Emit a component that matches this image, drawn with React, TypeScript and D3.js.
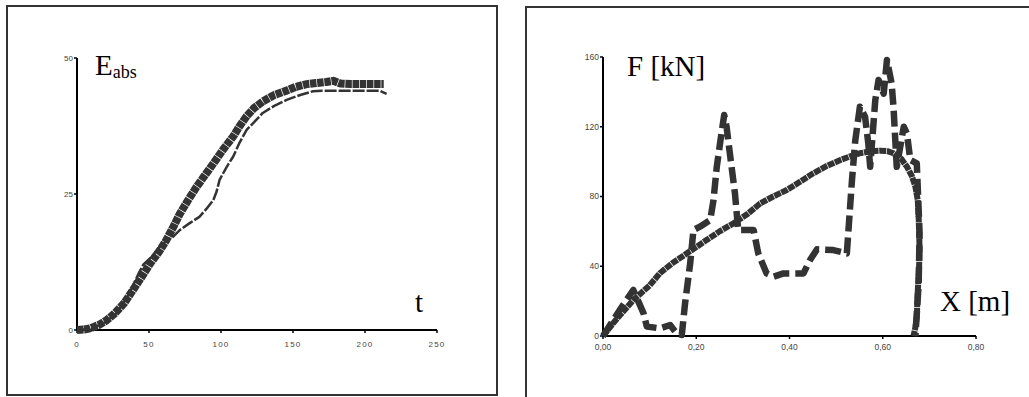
import { useRef, useEffect } from "react";
import * as d3 from "d3";

// Left panel: absorbed energy vs time
const thickT = [0, 5, 9, 15, 20.6, 26, 33, 39, 45, 51, 57, 62, 67, 71.5, 77, 83, 89, 94.7, 101, 108.5, 113, 117.8, 123, 129, 137, 145.6, 152, 159.5, 166, 173, 178, 183, 190, 200, 213];
const thickE = [0, 0.1, 0.3, 0.9, 1.8, 3, 5, 7.4, 9.8, 12.3, 14.4, 16.5, 19, 21.4, 23.8, 26.3, 28.5, 30.6, 33, 35.6, 37.5, 39.3, 40.8, 42, 43.2, 44, 44.7, 45.2, 45.4, 45.6, 45.8, 45.3, 45.2, 45.2, 45.2];
const thinT = [0, 10, 20, 27, 35, 40, 43, 46, 52, 58, 63, 67, 71.5, 78, 85, 90, 94.7, 97, 99, 104, 108.5, 113, 117.8, 123, 129, 137, 145.6, 155, 164, 170, 178, 195, 210, 215];
const thinE = [0, 0.2, 1.5, 3, 6, 8.8, 10.5, 12, 13.5, 15.5, 16.5, 17.2, 18.4, 19.6, 20.8, 22.3, 23.9, 25.5, 27.6, 30, 31.9, 34.5, 36.8, 38.2, 39.9, 41.2, 42.3, 43.2, 43.9, 44, 44, 44, 44, 43.4];
const leftXTicks = [0, 50, 100, 150, 200, 250];
const leftYTicks = [0, 25, 50];

// Right panel: force vs displacement
const solidX = [0, 0.03, 0.065, 0.1, 0.122, 0.15, 0.18, 0.2, 0.222, 0.25, 0.28, 0.31, 0.337, 0.365, 0.394, 0.42, 0.451, 0.48, 0.509, 0.53, 0.551, 0.575, 0.594, 0.61, 0.623, 0.64, 0.652, 0.662, 0.67, 0.675, 0.677, 0.679, 0.678, 0.675, 0.673, 0.67, 0.666];
const solidF = [0, 10, 20.6, 29, 36, 42, 47.4, 51, 55, 60, 64.6, 70, 76, 80, 83.7, 88, 93.3, 97.5, 100.9, 103, 104.8, 106, 106.3, 106, 104.8, 101.5, 97, 92, 85.6, 78, 68.4, 50, 39.7, 25, 11, 5, 0];
const dashX = [0, 0.036, 0.065, 0.087, 0.094, 0.122, 0.144, 0.158, 0.169, 0.176, 0.187, 0.194, 0.208, 0.23, 0.237, 0.244, 0.255, 0.26, 0.265, 0.273, 0.283, 0.29, 0.305, 0.323, 0.333, 0.351, 0.366, 0.387, 0.43, 0.444, 0.459, 0.494, 0.523, 0.526, 0.534, 0.541, 0.551, 0.562, 0.569, 0.573, 0.584, 0.591, 0.602, 0.609, 0.619, 0.623, 0.63, 0.645, 0.652, 0.659, 0.673, 0.679, 0.677, 0.67];
const dashF = [0, 14.9, 26.4, 13, 5.4, 4.4, 6.3, 1.5, 0.6, 18.7, 41.7, 60.8, 62.7, 66.5, 78, 97, 118, 126.7, 120, 102.8, 81.8, 60.8, 60.8, 60.8, 47.4, 35.9, 34, 35.9, 35.9, 43.6, 49.7, 49.3, 47.4, 58.9, 89.4, 112, 131.5, 125.8, 110.5, 97, 135.3, 146.8, 139, 158.3, 145, 131.5, 97, 120, 116, 101, 99, 58.9, 30, 0];
const rightXTicks = [0, 0.2, 0.4, 0.6, 0.8];
const rightYTicks = [0, 40, 80, 120, 160];

const INK = "#333";
const SERIF = "'Liberation Serif', 'Times New Roman', serif";
const SANS = "'Liberation Sans', Arial, sans-serif";

export default function App() {
  const svgRef = useRef<SVGSVGElement>(null);

  useEffect(() => {
    const svg = d3.select(svgRef.current);
    svg.selectAll("*").remove();

    // Panel frames
    svg.append("rect").attr("x", 7).attr("y", 6).attr("width", 490).attr("height", 389)
      .attr("fill", "none").attr("stroke", INK).attr("stroke-width", 2);
    svg.append("path").attr("d", "M526,397 V7 H1029")
      .attr("fill", "none").attr("stroke", INK).attr("stroke-width", 2);

    const drawAxes = (
      x: d3.ScaleLinear<number, number>,
      y: d3.ScaleLinear<number, number>,
      xTicks: number[],
      yTicks: number[],
      fmt: (d: number) => string,
      spacing: number,
      ly: number,
      fs: number,
    ) => {
      const g = svg.append("g");
      const [x0, x1] = x.range();
      const [y0, y1] = y.range();
      g.append("line").attr("x1", x0).attr("x2", x0).attr("y1", y0).attr("y2", y1).attr("stroke", "#000").attr("stroke-width", 2);
      g.append("line").attr("x1", x0).attr("x2", x1).attr("y1", y0).attr("y2", y0).attr("stroke", "#000").attr("stroke-width", 2);
      g.selectAll(".xt").data(xTicks).join("line")
        .attr("x1", (d) => x(d)).attr("x2", (d) => x(d)).attr("y1", y0).attr("y2", y0 + 3)
        .attr("stroke", "#000").attr("stroke-width", 1.5);
      g.selectAll(".yt").data(yTicks).join("line")
        .attr("x1", x0 - 3).attr("x2", x0).attr("y1", (d) => y(d)).attr("y2", (d) => y(d))
        .attr("stroke", "#000").attr("stroke-width", 1.5);
      g.selectAll(".xl").data(xTicks).join("text")
        .attr("x", (d) => x(d)).attr("y", y0 + ly).attr("text-anchor", "middle")
        .style("font-family", SANS).style("font-size", `${fs}px`)
        .style("letter-spacing", `${spacing}px`).style("fill", "#444").text(fmt);
      g.selectAll(".yl").data(yTicks).join("text")
        .attr("x", x0 - 4).attr("y", (d) => y(d)).attr("dy", "0.35em").attr("text-anchor", "end")
        .style("font-family", SANS).style("font-size", `${fs}px`)
        .style("fill", "#444").text((d) => String(d));
    };

    // Left chart
    const xL = d3.scaleLinear().domain([0, 250]).range([77, 437]);
    const yL = d3.scaleLinear().domain([0, 50]).range([330, 58]);
    drawAxes(xL, yL, leftXTicks, leftYTicks, (d) => String(d), 1.2, 17, 8);

    const lineL = d3.line<[number, number]>().x((d) => xL(d[0])).y((d) => yL(d[1])).curve(d3.curveLinear);
    svg.append("path").datum(d3.zip(thinT, thinE) as [number, number][])
      .attr("d", lineL).attr("fill", "none").attr("stroke", INK).attr("stroke-width", 2.5)
      .attr("stroke-dasharray", "12,2").attr("stroke-linejoin", "round");
    svg.append("path").datum(d3.zip(thickT, thickE) as [number, number][])
      .attr("d", lineL).attr("fill", "none").attr("stroke", INK).attr("stroke-width", 8)
      .attr("stroke-dasharray", "6.5,0.7").attr("stroke-linejoin", "round");

    const eLab = svg.append("text").attr("x", 95).attr("y", 75)
      .style("font-family", SERIF).style("fill", "#000");
    eLab.append("tspan").style("font-size", "29px").text("E");
    eLab.append("tspan").attr("dy", 3).style("font-size", "18px").text("abs");
    svg.append("text").attr("x", 415).attr("y", 312)
      .style("font-family", SERIF).style("font-size", "29px").text("t");

    // Right chart
    const xR = d3.scaleLinear().domain([0, 0.8]).range([603, 976]);
    const yR = d3.scaleLinear().domain([0, 160]).range([336, 57]);
    drawAxes(xR, yR, rightXTicks, rightYTicks, (d) => d.toFixed(2).replace(".", ","), 0, 14, 8.5);

    const lineR = d3.line<[number, number]>().x((d) => xR(d[0])).y((d) => yR(d[1])).curve(d3.curveLinear);
    svg.append("path").datum(d3.zip(solidX, solidF) as [number, number][])
      .attr("d", lineR).attr("fill", "none").attr("stroke", INK).attr("stroke-width", 6)
      .attr("stroke-dasharray", "7,0.7").attr("stroke-linejoin", "round");
    svg.append("path").datum(d3.zip(dashX, dashF) as [number, number][])
      .attr("d", lineR).attr("fill", "none").attr("stroke", INK).attr("stroke-width", 6.5)
      .attr("stroke-dasharray", "16,6").attr("stroke-linejoin", "round");

    svg.append("text").attr("x", 627).attr("y", 76)
      .style("font-family", SERIF).style("font-size", "29px").text("F [kN]");
    svg.append("text").attr("x", 940).attr("y", 311)
      .style("font-family", SERIF).style("font-size", "29px").text("X [m]");
  }, []);

  return (
    <svg
      ref={svgRef}
      width={1029}
      height={397}
      style={{ position: "fixed", left: 0, top: 0, background: "#fff" }}
    />
  );
}
